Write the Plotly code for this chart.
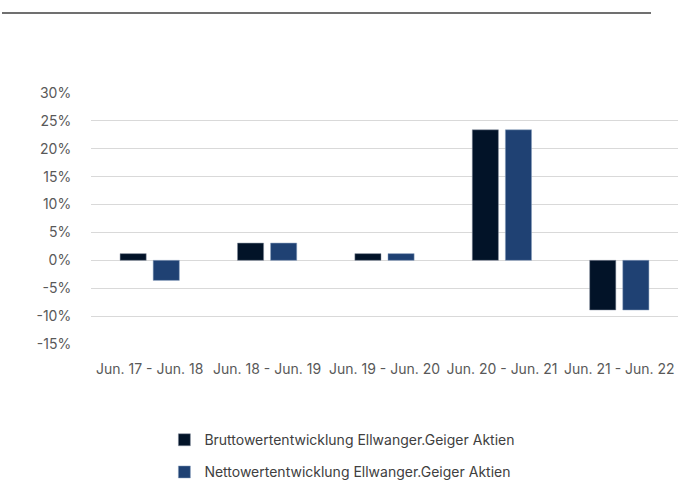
import plotly.graph_objects as go

categories = ["Jun. 17 - Jun. 18", "Jun. 18 - Jun. 19", "Jun. 19 - Jun. 20",
              "Jun. 20 - Jun. 21", "Jun. 21 - Jun. 22"]
brutto = [1.2, 3.1, 1.2, 23.4, -8.9]
netto = [-3.6, 3.1, 1.2, 23.4, -8.9]
y_ticks = [-15, -10, -5, 0, 5, 10, 15, 20, 25, 30]
y_labels = [f"{v}%" for v in y_ticks]

FONT = "Inter"
fig = go.Figure()
fig.add_trace(go.Bar(x=categories, y=brutto, name="Bruttowertentwicklung Ellwanger.Geiger Aktien",
                     marker=dict(color="#021328", line=dict(color="#8a93a3", width=0.5)),
                     legendgroup="a"))
fig.add_trace(go.Bar(x=categories, y=netto, name="Nettowertentwicklung Ellwanger.Geiger Aktien",
                     marker=dict(color="#1F4173", line=dict(color="#8aa0bf", width=0.5)),
                     legendgroup="b"))

fig.update_layout(
    width=678, height=482,
    margin=dict(l=91, r=0, t=93, b=138, autoexpand=False),
    paper_bgcolor="white", plot_bgcolor="white",
    barmode="group", bargap=0.436, bargroupgap=0.21,
    font=dict(family=FONT, size=14, color="#595959"),
    showlegend=True,
    legend=dict(orientation="v", x=0.125, xanchor="left",
                yref="container", y=0.12, yanchor="top",
                traceorder="grouped", tracegroupgap=11,
                font=dict(family=FONT, size=14, color="#404040"),
                itemwidth=30),
    xaxis=dict(showgrid=False, showline=False, ticks="outside", ticklen=12,
               tickcolor="rgba(0,0,0,0)", tickfont=dict(size=14, color="#595959")),
    yaxis=dict(range=[-15, 30], tickvals=y_ticks, ticktext=y_labels,
               showgrid=True, gridcolor="#d9d9d9", gridwidth=1,
               zeroline=True, zerolinecolor="#d9d9d9", zerolinewidth=1,
               ticks="outside", ticklen=16, tickcolor="rgba(0,0,0,0)",
               tickfont=dict(size=14, color="#595959")),
    shapes=[dict(type="line", xref="paper", yref="paper",
                 x0=(2 - 91) / 587, x1=(651 - 91) / 587,
                 y0=1 + (93 - 13) / 251, y1=1 + (93 - 13) / 251,
                 line=dict(color="#404040", width=1.5))],
)
fig.write_html("out.html", config={"displayModeBar": False},
               post_script="document.body.style.margin='0';document.body.style.overflow='hidden';")
